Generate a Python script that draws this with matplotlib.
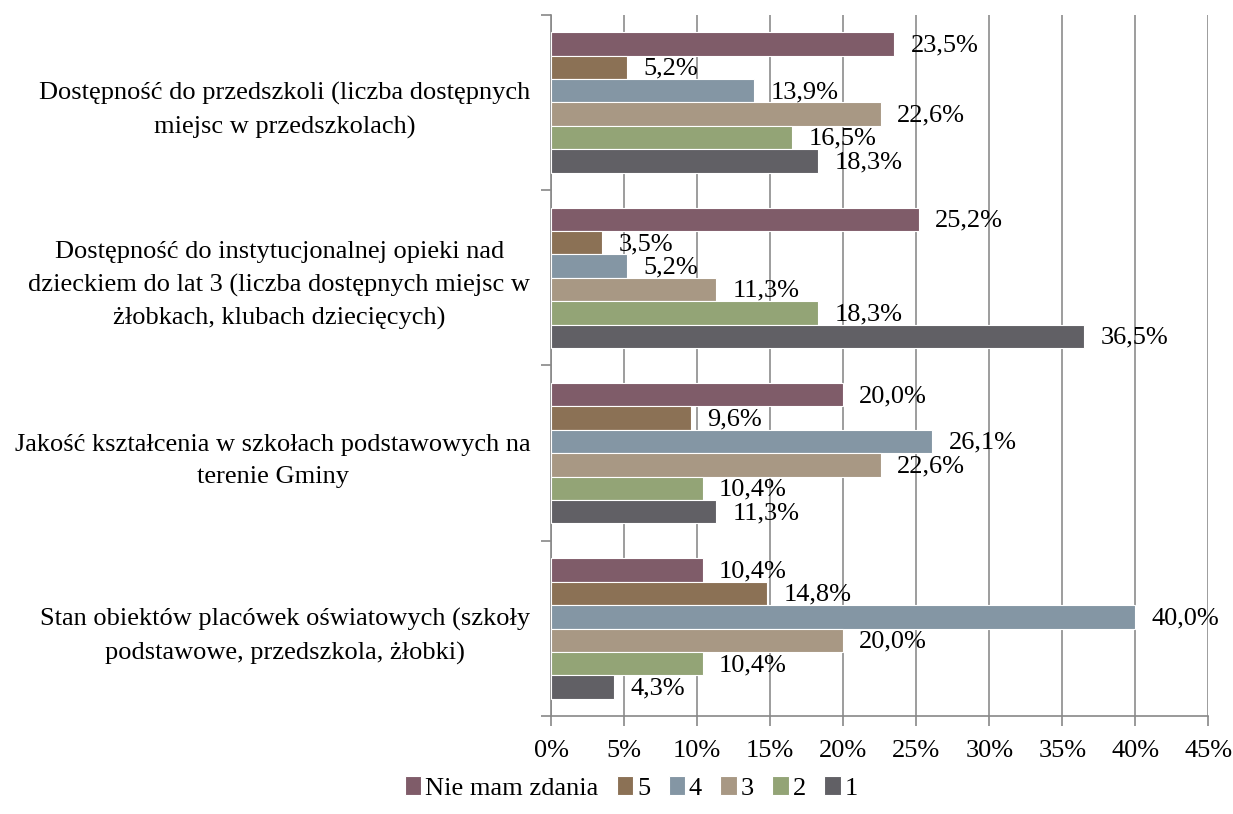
import numpy as np
import matplotlib.pyplot as plt

plt.rcParams['font.family'] = ['Liberation Serif', 'DejaVu Serif']

# Kategorie (od góry do dołu)
categories = [
    "Dostępność do przedszkoli (liczba dostępnych\nmiejsc w przedszkolach)",
    "Dostępność do instytucjonalnej opieki nad\ndzieckiem do lat 3 (liczba dostępnych miejsc w\nżłobkach, klubach dziecięcych)",
    "Jakość kształcenia w szkołach podstawowych na\nterenie Gminy",
    "Stan obiektów placówek oświatowych (szkoły\npodstawowe, przedszkola, żłobki)",
]

series = ["Nie mam zdania", "5", "4", "3", "2", "1"]
colors = ["#7F5C69", "#8B7155", "#8496A4", "#A89884", "#93A476", "#616065"]

# wartości w % dla każdej serii, kolejno dla kategorii
nie_mam_zdania = [23.5, 25.2, 20.0, 10.4]
ocena_5 = [5.2, 3.5, 9.6, 14.8]
ocena_4 = [13.9, 5.2, 26.1, 40.0]
ocena_3 = [22.6, 11.3, 22.6, 20.0]
ocena_2 = [16.5, 18.3, 10.4, 10.4]
ocena_1 = [18.3, 36.5, 11.3, 4.3]
values = [nie_mam_zdania, ocena_5, ocena_4, ocena_3, ocena_2, ocena_1]

fs = 19

fig = plt.figure(figsize=(12.33, 8.14), dpi=100)
ax = fig.add_axes([0.447, 0.120, 0.533, 0.862])

n = len(series)
group = 0.8
h = group / n
y = np.arange(len(categories))

for j, (name, vals, col) in enumerate(zip(series, values, colors)):
    pos = y - group / 2 + (j + 0.5) * h
    ax.barh(pos, vals, height=h, color=col, edgecolor='white', linewidth=0.8,
            label=name, zorder=3)
    for p, v in zip(pos, vals):
        ax.text(v + 1.1, p + 0.008, f"{v:.1f}%".replace('.', ','), va='center',
                ha='left', fontsize=fs, zorder=4)

ax.set_xlim(0, 45)
ax.set_ylim(len(categories) - 0.5, -0.5)
ax.set_xticks(np.arange(0, 46, 5))
ax.set_xticklabels([f"{t}%" for t in range(0, 46, 5)], fontsize=fs)
ax.set_yticks(y)
ax.set_yticklabels(categories, fontsize=fs, linespacing=1.6, multialignment='center')
ax.set_yticks(np.arange(-0.5, len(categories), 1), minor=True)
ax.tick_params(axis='y', which='major', length=0, pad=15)
ax.tick_params(axis='y', which='minor', length=7, color='#888888', width=1.2)
ax.tick_params(axis='x', length=7, color='#888888', width=1.2, pad=10)

ax.grid(axis='x', color='#8C8C8C', linewidth=1.2, zorder=0)
for s in ['top', 'right']:
    ax.spines[s].set_visible(False)
for s in ['left', 'bottom']:
    ax.spines[s].set_color('#888888')
    ax.spines[s].set_linewidth(1.2)

handles, labels = ax.get_legend_handles_labels()
fig.legend(handles, labels, loc='center', bbox_to_anchor=(0.512, 0.032), ncol=6,
           frameon=False, fontsize=fs, handlelength=0.62, handleheight=0.75,
           handletextpad=0.15, columnspacing=0.7)

fig.savefig("out.png", dpi=100)
